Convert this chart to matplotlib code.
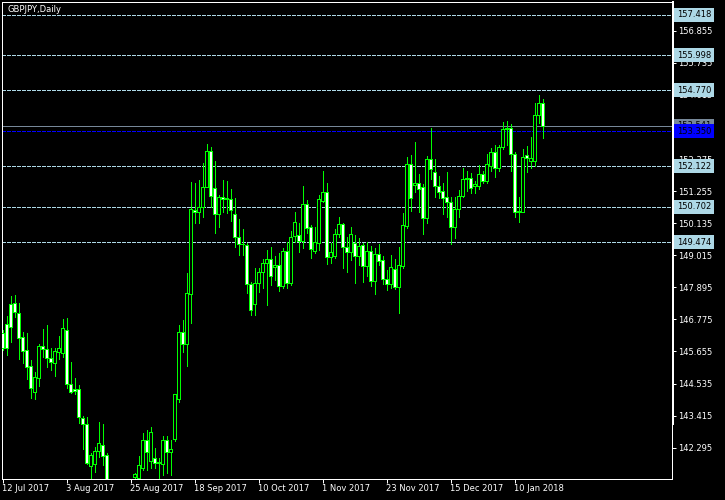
import numpy as np
import pandas as pd
import matplotlib
matplotlib.use("Agg")
import matplotlib.pyplot as plt
import matplotlib.transforms as mtransforms

#
# Data
#
opens = [146.29, 146.60, 147.30, 147.34, 146.99, 146.15, 145.71, 145.15, 144.25, 144.74,
         145.85, 145.73, 145.41, 145.24, 145.65, 145.61, 146.40, 144.51, 144.33, 144.33,
         143.34, 143.11, 141.67, 141.71, 142.19, 142.38, 142.04, 140.90, 140.50, 140.10,
         140.30, 139.70, 140.20, 141.26, 141.25, 141.60, 142.56, 141.84, 141.92, 141.81,
         141.74, 142.55, 142.16, 142.61, 143.98, 146.35, 145.90, 147.65, 150.59, 150.54,
         150.69, 151.41, 152.67, 151.35, 150.44, 151.04, 151.00, 150.98, 150.44, 149.64,
         149.41, 149.38, 148.00, 147.30, 148.06, 148.44, 148.73, 148.87, 148.59, 148.67,
         147.95, 149.16, 148.06, 149.68, 149.72, 149.51, 150.80, 149.99, 149.17, 149.45,
         150.92, 151.21, 148.96, 149.00, 149.74, 150.09, 149.31, 149.14, 149.43, 148.98,
         149.37, 148.65, 149.16, 148.13, 149.06, 148.85, 148.17, 148.00, 148.55, 147.92,
         148.65, 150.05, 152.19, 151.47, 151.53, 151.41, 150.33, 152.37, 151.91, 151.44,
         151.26, 151.04, 150.88, 150.01, 150.63, 151.09, 151.66, 151.70, 151.42, 151.44,
         151.84, 151.62, 152.13, 152.61, 152.05, 152.78, 153.42, 153.45, 152.54, 150.51,
         150.54, 152.51, 152.32, 152.32, 153.91, 154.32]
highs = [146.40, 146.89, 147.59, 147.63, 147.34, 146.32, 146.29, 145.36, 144.95, 145.90,
         146.43, 146.58, 145.76, 145.76, 146.19, 146.79, 146.81, 145.30, 144.72, 144.48,
         143.40, 143.38, 142.10, 142.33, 143.18, 143.12, 142.10, 141.10, 140.80, 140.60,
         140.70, 140.40, 141.00, 141.42, 142.00, 142.80, 142.91, 143.03, 142.27, 141.92,
         142.71, 142.71, 142.56, 144.18, 146.58, 146.75, 148.38, 151.58, 151.52, 151.64,
         152.22, 152.90, 152.78, 152.30, 151.12, 151.64, 151.61, 151.32, 151.00, 150.27,
         149.93, 149.45, 148.09, 148.56, 148.56, 148.87, 149.20, 149.31, 148.99, 149.08,
         149.26, 149.49, 149.86, 150.54, 150.13, 151.43, 150.94, 150.07, 150.01, 151.12,
         151.96, 151.52, 149.43, 149.93, 150.34, 150.13, 149.66, 150.01, 149.72, 149.60,
         149.43, 149.49, 149.34, 149.26, 149.41, 148.99, 148.50, 149.02, 148.87, 149.31,
         150.48, 152.46, 152.51, 152.98, 151.85, 151.50, 152.48, 153.45, 152.37, 151.78,
         151.53, 151.93, 151.04, 151.04, 151.29, 152.05, 151.96, 151.90, 151.62, 152.15,
         151.97, 152.55, 152.75, 152.86, 152.86, 153.65, 153.70, 153.60, 152.61, 151.04,
         152.71, 152.83, 153.13, 154.32, 154.61, 154.46]
lows = [145.70, 145.53, 146.00, 146.87, 145.39, 145.24, 144.69, 144.02, 143.99, 144.45,
        145.45, 145.10, 145.01, 144.80, 145.39, 145.45, 144.37, 144.19, 144.17, 143.14,
        142.25, 141.72, 141.25, 141.45, 141.98, 141.69, 140.70, 140.30, 139.80, 139.60,
        139.40, 139.30, 139.90, 140.90, 141.05, 141.52, 141.52, 141.57, 141.57, 141.10,
        141.34, 141.40, 141.34, 142.53, 143.90, 145.65, 145.16, 146.64, 150.15, 150.15,
        150.36, 151.39, 150.69, 149.78, 150.01, 150.54, 150.48, 150.22, 149.29, 149.02,
        149.02, 147.68, 146.93, 146.93, 147.74, 147.86, 147.28, 147.97, 148.15, 147.77,
        147.86, 147.88, 147.97, 149.49, 149.14, 149.26, 149.78, 148.91, 149.08, 149.20,
        150.88, 148.70, 148.73, 148.91, 149.66, 148.56, 148.44, 148.85, 148.06, 148.66,
        148.09, 148.30, 147.95, 147.65, 148.66, 148.01, 147.80, 147.86, 147.84, 146.99,
        148.58, 149.98, 150.57, 151.23, 150.54, 149.76, 150.15, 151.66, 151.06, 151.02,
        150.45, 150.36, 149.41, 149.63, 150.36, 151.04, 151.26, 151.18, 151.20, 151.33,
        151.53, 151.53, 151.96, 151.76, 151.97, 152.72, 152.86, 151.96, 150.36, 150.19,
        150.54, 151.93, 152.07, 152.13, 153.62, 153.12]
closes = [145.76, 145.76, 146.52, 147.04, 146.11, 145.68, 145.12, 144.37, 144.75, 145.85,
          145.73, 145.41, 145.30, 145.67, 145.76, 146.46, 144.51, 144.25, 144.29, 143.35,
          143.11, 141.75, 142.04, 142.19, 142.45, 142.02, 140.90, 140.50, 140.10, 140.30,
          139.70, 140.20, 140.80, 141.38, 141.69, 142.56, 142.16, 142.83, 141.77, 141.75,
          142.55, 142.16, 142.25, 144.16, 146.35, 145.90, 147.68, 150.62, 150.54, 150.69,
          151.41, 152.67, 151.08, 150.44, 151.04, 150.98, 150.97, 150.59, 149.64, 149.41,
          149.39, 148.00, 147.10, 148.06, 148.44, 148.73, 148.87, 148.30, 148.67, 147.95,
          149.16, 148.06, 149.66, 150.16, 149.51, 150.80, 149.98, 149.22, 149.49, 150.97,
          151.21, 148.96, 149.12, 149.74, 150.09, 149.31, 149.14, 149.74, 148.98, 149.35,
          148.65, 149.16, 148.13, 149.06, 148.83, 148.17, 148.00, 148.59, 147.92, 148.67,
          150.07, 152.19, 151.00, 151.53, 151.33, 150.33, 152.37, 152.01, 151.44, 151.23,
          151.02, 150.88, 149.99, 150.63, 151.09, 151.66, 151.70, 151.38, 151.49, 151.84,
          151.62, 152.19, 152.61, 152.05, 152.78, 153.42, 153.45, 152.54, 150.51, 150.57,
          152.46, 152.40, 152.40, 153.91, 154.34, 153.54]

# trading days (broker closed on 25 Dec and 1 Jan)
days = pd.bdate_range("2017-07-12", "2018-01-19")
days = days.drop(pd.to_datetime(["2017-12-25", "2018-01-01"]))

date_ticks = ["2017-07-12", "2017-08-03", "2017-08-25", "2017-09-18", "2017-10-10",
              "2017-11-01", "2017-11-23", "2017-12-15", "2018-01-10"]
date_labels = ["12 Jul 2017", "3 Aug 2017", "25 Aug 2017", "18 Sep 2017", "10 Oct 2017",
               "1 Nov 2017", "23 Nov 2017", "15 Dec 2017", "10 Jan 2018"]

price_ticks = [156.855, 155.735, 154.615, 153.495, 152.375, 151.255, 150.135,
               149.015, 147.895, 146.775, 145.655, 144.535, 143.415, 142.295]
levels = [157.418, 155.998, 154.770, 152.122, 150.702, 149.474]
bid = 153.541
blue_level = 153.350

#
# Plot
#
W, H = 725, 500
px = 72.0 / 100  # one pixel in points
plt.rcParams["font.family"] = ["DejaVu Sans"]
fig = plt.figure(figsize=(W / 100, H / 100), dpi=100, facecolor="black")
ax = fig.add_axes([2 / W, 21 / H, 670 / W, 477 / H], facecolor="black")

o = np.array(opens)
h = np.array(highs)
l = np.array(lows)
c = np.array(closes)
x = np.arange(len(o))

lime = "#00FF00"
ax.vlines(x, l, h, color=lime, linewidth=px, zorder=2, antialiaseds=False)
body_lo = np.minimum(o, c)
body_h = np.maximum(np.abs(c - o), 0.01)
fills = np.where(c < o, "white", "black")
ax.bar(x, body_h, bottom=body_lo, width=0.6, color=fills, edgecolor=lime,
       linewidth=px, zorder=3, antialiased=False)

# horizontal levels
for lv in levels:
    ax.axhline(lv, color="#ADD8E6", linewidth=px, linestyle=(0, (3, 2)), zorder=1,
               antialiased=False)
ax.axhline(bid, color="#778899", linewidth=px, zorder=1, antialiased=False)
ax.axhline(blue_level, color="#0000FF", linewidth=px, linestyle=(0, (3, 2)), zorder=1,
           antialiased=False)

ax.set_xlim(-0.125, 167.375)
ax.set_ylim(141.202, 157.857)

# axes / ticks
for s in ax.spines.values():
    s.set_color("white")
    s.set_linewidth(px)
ax.plot([1.0015, 1.0015], [0.115, 1.0], transform=ax.transAxes, color="white",
        linewidth=2 * px, clip_on=False, zorder=5)

ax.yaxis.tick_right()
ax.set_yticks(price_ticks)
ax.set_yticklabels(["%.3f" % v for v in price_ticks])
ax.tick_params(axis="y", colors="white", length=4 * px, width=px, pad=1.5, labelsize=6)

tick_pos = [days.get_loc(pd.Timestamp(d)) for d in date_ticks]
ax.set_xticks(tick_pos)
ax.set_xticklabels(date_labels, ha="left")
ax.tick_params(axis="x", colors="white", length=4 * px, width=px, pad=1, labelsize=6)
offset = mtransforms.ScaledTranslation(-1 / 100, 0, fig.dpi_scale_trans)
for t in ax.get_xticklabels():
    t.set_transform(t.get_transform() + offset)

# price labels on the right
trans = mtransforms.blended_transform_factory(ax.transAxes, ax.transData)
lx = 1 + 5 / 670
for lv in levels:
    ax.text(lx, lv, "%.3f" % lv, transform=trans, ha="left", va="center", fontsize=6,
            color="black", clip_on=False, zorder=6,
            bbox=dict(boxstyle="square,pad=0.3", fc="#ADD8E6", ec="none"))
ax.text(lx, bid, "%.3f" % bid, transform=trans, ha="left", va="center", fontsize=6,
        color="black", clip_on=False, zorder=6,
        bbox=dict(boxstyle="square,pad=0.3", fc="#778899", ec="none"))
ax.text(lx, blue_level, "%.3f" % blue_level, transform=trans, ha="left", va="center",
        fontsize=6, color="black", clip_on=False, zorder=7,
        bbox=dict(boxstyle="square,pad=0.3", fc="#0000FF", ec="none"))

fig.text(7 / W, 1 - 10 / H, "GBPJPY,Daily", color="white", fontsize=6,
         ha="left", va="center")

fig.savefig("out.png", dpi=100, facecolor="black")
